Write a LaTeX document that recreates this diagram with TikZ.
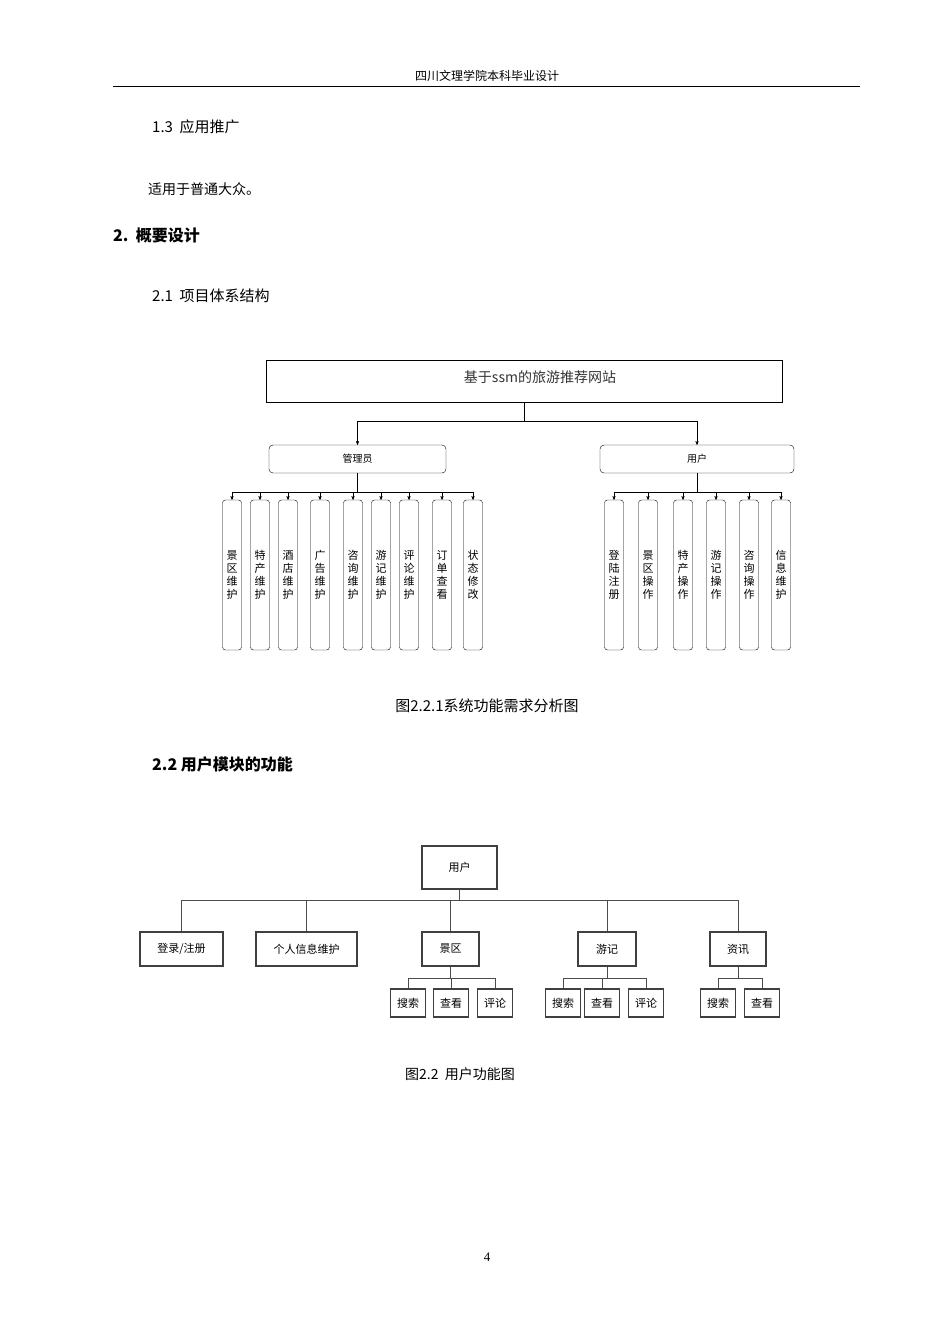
\documentclass[tikz,border=0pt]{standalone}
\usepackage{fontspec}
\setmainfont{Liberation Serif}
\newfontfamily\cjk{Noto Sans CJK SC}
\usetikzlibrary{arrows,positioning}
\begin{document}
\begin{tikzpicture}[x=1pt,y=-1pt,>=stealth',
    txt/.style={font=\cjk\fontsize{15}{15}\selectfont,anchor=west,inner sep=0},
    top box/.style={draw,thin,minimum width=516pt,minimum height=42pt,inner sep=0},
    role box/.style={draw,rounded corners=4pt,minimum height=28pt,inner sep=0,font=\cjk\fontsize{10}{10}\selectfont},
    leaf box/.style={draw,rounded corners=3pt,minimum width=19pt,minimum height=150pt,inner sep=0,
        align=center,font=\cjk\fontsize{11}{13}\selectfont},
    fn box/.style={draw,line width=1.6pt,draw=black!75,minimum height=34pt,inner sep=0,font=\cjk\fontsize{11}{11}\selectfont},
    sub box/.style={draw,line width=1.6pt,draw=black!75,minimum width=35pt,minimum height=28pt,inner sep=0,font=\cjk\fontsize{11}{11}\selectfont},
    link/.style={draw,black!70,line width=0.8pt}]
\useasboundingbox (0,0) rectangle (950,1344);
% page text
\node[font=\cjk\fontsize{12}{12}\selectfont] (hdr) at (487,76) {四川文理学院本科毕业设计};
\draw (113,86) -- (860,86);
\node[txt] (s13) at (152,127) {1.3\ \ 应用推广};
\node[txt,font=\cjk\fontsize{14}{14}\selectfont] (p13) at (148,189) {适用于普通大众。};
\node[txt,font=\cjk\bfseries\fontsize{16}{16}\selectfont] (s2) at (113,235) {2.\ \ 概要设计};
\node[txt] (s21) at (152,296) {2.1\ \ 项目体系结构};

% figure 2.2.1
\node[top box] (site) at (524,381) {};
\node[font=\cjk\fontsize{14}{14}\selectfont,text=black!80] at (540,377) {基于ssm的旅游推荐网站};
\node[role box,minimum width=177pt] (admin) at (357.5,459) {管理员};
\node[role box,minimum width=194pt] (user) at (697,459) {用户};
\draw[->] (site.south) -- ++(0,19) -| (admin.north);
\draw[->] (site.south) -- ++(0,19) -| (user.north);
\foreach \x/\t [count=\i] in {232/景\\区\\维\\护,260/特\\产\\维\\护,288/酒\\店\\维\\护,320/广\\告\\维\\护,
    353/咨\\询\\维\\护,381/游\\记\\维\\护,409/评\\论\\维\\护,442/订\\单\\查\\看,473/状\\态\\修\\改}{
  \node[leaf box] (a\i) at (\x,575) {\t};
  \draw[->] (admin.south) -- ++(0,19) -| (a\i.north);
}
\foreach \x/\t [count=\i] in {614/登\\陆\\注\\册,648/景\\区\\操\\作,683/特\\产\\操\\作,
    716/游\\记\\操\\作,749/咨\\询\\操\\作,781/信\\息\\维\\护}{
  \node[leaf box] (u\i) at (\x,575) {\t};
  \draw[->] (user.south) -- ++(0,19) -| (u\i.north);
}
\node[font=\cjk\fontsize{15}{15}\selectfont] (cap1) at (487,706) {图2.2.1系统功能需求分析图};
\node[txt,font=\cjk\bfseries\fontsize{16}{16}\selectfont] (s22) at (152,764) {2.2\ 用户模块的功能};

% figure 2.2
\node[fn box,minimum width=75pt,minimum height=43pt] (root) at (459.5,867.5) {用户};
\foreach \n/\x/\w/\t in {login/181.5/83/{登录/注册},info/306.5/101/个人信息维护,
    scen/450.5/57/景区,trav/607/58/游记,news/738/56/资讯}{
  \node[fn box,minimum width=\w pt] (\n) at (\x,949) {\t};
  \draw[link] (root.south) -- ++(0,11) -| (\n.north);
}
\foreach \p/\x/\t [count=\i] in {scen/408/搜索,scen/451/查看,scen/495/评论,
    trav/563/搜索,trav/602/查看,trav/646/评论,news/718/搜索,news/762/查看}{
  \node[sub box] (b\i) at (\x,1003) {\t};
  \draw[link] (\p.south) -- ++(0,12) -| (b\i.north);
}
\node[font=\cjk\fontsize{14}{14}\selectfont] (cap2) at (460,1074) {图2.2\ \ 用户功能图};
\node[font=\fontsize{13}{13}\selectfont] (pg) at (487,1257) {4};
\end{tikzpicture}
\end{document}
